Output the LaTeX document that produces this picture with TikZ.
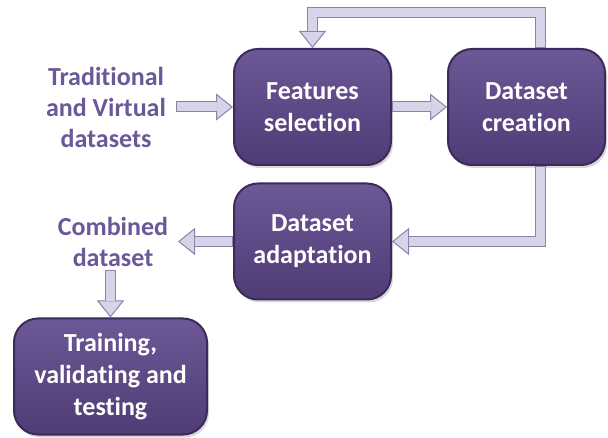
\documentclass[tikz,border=0pt]{standalone}
\usepackage{fontspec}
\setmainfont[Ligatures=NoCommon]{Carlito}
\usetikzlibrary{arrows.meta,shadows}
\definecolor{boxtop}{HTML}{6C5896}
\definecolor{boxbot}{HTML}{4F3B75}
\definecolor{boxedge}{HTML}{3B2A5A}
\definecolor{arrfill}{HTML}{D8D3E8}
\definecolor{arredge}{HTML}{8A82A8}
\definecolor{lbl}{HTML}{6A5898}
\tikzset{
  stage/.style={rounded corners=24pt, draw=boxedge, line width=2pt,
    top color=boxtop, bottom color=boxbot, text=white,
    font=\fontsize{26}{32}\selectfont\bfseries, align=center,
    minimum width=157pt, minimum height=116pt,
    drop shadow={opacity=0.3, shadow xshift=2pt, shadow yshift=-3pt}},
  lab/.style={text=lbl, font=\fontsize{26}{31}\selectfont\bfseries, align=center},
  blk/.style={draw=arredge, line width=11pt, line join=miter,
    -{Triangle[width=27pt,length=17pt,line width=1pt,fill=arrfill]},
    postaction={draw=arrfill, line width=9pt, -, shorten >=16.5pt, shorten <=1pt}}
}
\begin{document}
\begin{tikzpicture}[x=1pt,y=-1pt]
\useasboundingbox (0,0) rectangle (608,438);
\node[stage] (fs) at (312.5,107) {Features\\selection};
\node[stage] (dc) at (526.5,107) {Dataset\\creation};
\node[stage] (da) at (312.5,241.5) {Dataset\\adaptation};
\node[stage, minimum width=193pt] (tr) at (110.5,376.5) {Training,\\validating and\\testing};
\node[lab] (trad) at (106,107) {Traditional\\and Virtual\\datasets};
\node[lab] (comb) at (113,242) {Combined\\dataset};
\draw[blk] ([xshift=-57pt]fs.west) -- (fs.west);
\draw[blk] (fs.east) -- (dc.west);
\draw[blk] ([xshift=14pt]dc.north) -- ++(0,-35) -| (fs.north);
\draw[blk] ([xshift=14pt]dc.south) |- (da.east);
\draw[blk] (da.west) -- ++(-55,0);
\draw[blk] (tr.north |- comb.south) -- (tr.north);
\end{tikzpicture}
\end{document}
